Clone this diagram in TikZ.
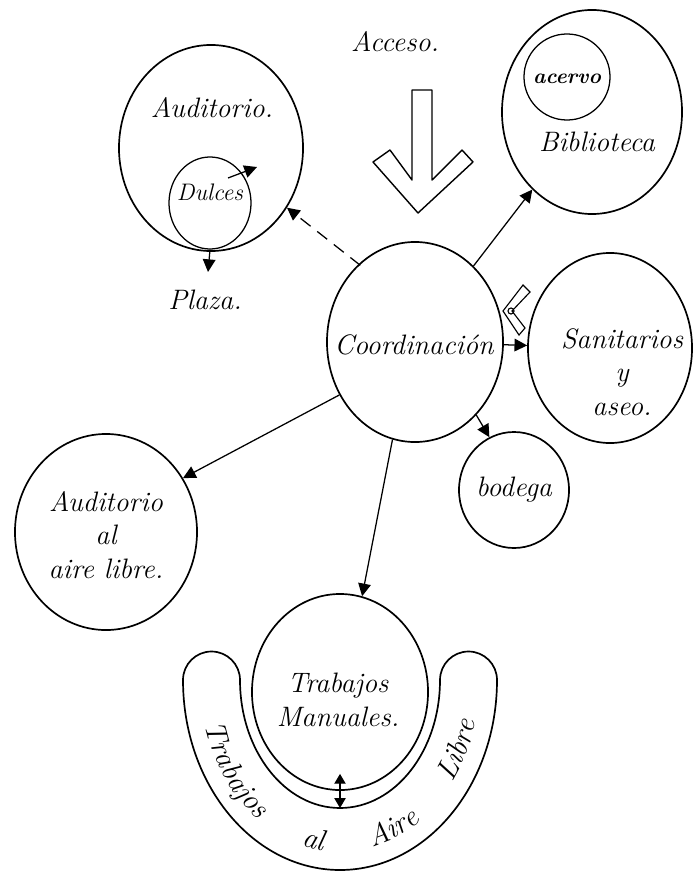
\documentclass[tikz,border=0pt]{standalone}
\usetikzlibrary{shapes.geometric,arrows.meta,decorations.text}
\tikzset{
  room/.style={draw, ellipse, line width=1.2pt, inner sep=0pt},
  lbl/.style={font=\fontsize{20}{24}\selectfont\itshape, align=center},
  tip/.style={-{Triangle[length=9pt,width=9pt]}, line width=0.9pt},
}
\begin{document}
\begin{tikzpicture}[x=0.025cm, y=0.025cm]
    \useasboundingbox (0,0) rectangle (694,-873);
    % rooms
    \node[room, minimum width=4.4cm, minimum height=5cm] (coord) at (415,-342) {};
    \node[lbl] (coordtxt) at (414,-345) {Coordinación};
    \node[room, minimum width=4.6cm, minimum height=5.15cm] (aud) at (211,-148) {};
    \node[lbl] (audtxt) at (212,-108) {Auditorio.};
    \node[room, line width=0.9pt, minimum width=2.05cm, minimum height=2.3cm] (dulces) at (210,-203) {};
    \node[lbl, font=\fontsize{17}{20}\selectfont\itshape] (dulcestxt) at (210,-192) {Dulces};
    \node[lbl] (plaza) at (205,-300) {Plaza.};
    \node[room, minimum width=4.5cm, minimum height=5.1cm] (bib) at (592,-112) {};
    \node[room, line width=0.9pt, minimum size=2.15cm] (acervo) at (567,-77) {};
    \node[font=\fontsize{15}{18}\selectfont\bfseries\itshape] (acervotxt) at (567,-79) {acervo};
    \node[lbl] (bibtxt) at (597,-142) {Biblioteca};
    \node[room, minimum width=4.1cm, minimum height=4.75cm] (san) at (610,-348) {};
    \node[lbl] (santxt) at (622,-372) {Sanitarios\\y\\aseo.};
    \node[room, minimum width=2.75cm, minimum height=2.9cm] (bod) at (514,-490) {};
    \node[lbl] (bodtxt) at (514,-490) {bodega};
    \node[room, minimum width=4.55cm, minimum height=4.9cm] (aal) at (106,-532) {};
    \node[lbl] (aaltxt) at (106,-535) {Auditorio\\al\\aire libre.};
    \node[room, minimum width=4.4cm, minimum height=4.9cm] (tm) at (340,-692) {};
    \node[lbl] (tmtxt) at (338,-700) {Trabajos\\Manuales.};
    \node[lbl] (acceso) at (395,-42) {Acceso.};

    % access arrow
    \draw[line width=1pt, line join=round] (412,-90) -- (412,-180) -- (390,-150) -- (373,-162)
        -- (418,-213) -- (473,-162) -- (462,-150) -- (432,-180) -- (432,-90) -- cycle;
    % bent mark
    \draw[line width=0.8pt] (523,-285) -- (530,-292) -- (512,-311) -- (525,-328) -- (519,-335)
        -- (503,-311) -- cycle;
    \draw[line width=0.8pt] (511,-311) circle[radius=3];

    % open air band
    \draw[line width=1.2pt] (183,-680) arc[start angle=180, end angle=360, x radius=157, y radius=190]
        arc[start angle=0, end angle=180, radius=28.5]
        arc[start angle=0, end angle=-180, x radius=100, y radius=128]
        arc[start angle=0, end angle=180, radius=28.5] -- cycle;
    \path[decorate, decoration={text along path, text align=fit to path stretching spaces,
        text={|\fontsize{21}{24}\selectfont\itshape|Trabajos al Aire Libre}}]
        (204.8,-724.5) arc[start angle=195, end angle=346, x radius=140, y radius=172];

    % connections
    \coordinate (dulcestip) at (257,-167);
    \coordinate (plazatip) at (208,-272);
    \coordinate (bandin) at (340,-808);
    \draw[tip] ([shift={(18,25)}]dulces.center) -- (dulcestip);
    \draw[tip] (dulces.south) -- (plazatip);
    \draw[tip, dashed, dash pattern=on 9pt off 6pt] ([shift={(12,10)}]coord.135) -- (aud);
    \draw[tip] (coord) -- (bib);
    \draw[tip] (coord) -- (san);
    \draw[tip] (coord.-50) -- (bod.115);
    \draw[tip] (coord.215) -- (aal.35);
    \draw[tip] (coord.257) -- (tm.77);
    \draw[{Triangle[length=7pt,width=8pt]}-{Triangle[length=7pt,width=8pt]}, line width=0.9pt]
        ([shift={(0,17)}]tm.south) -- (bandin);
\end{tikzpicture}
\end{document}
